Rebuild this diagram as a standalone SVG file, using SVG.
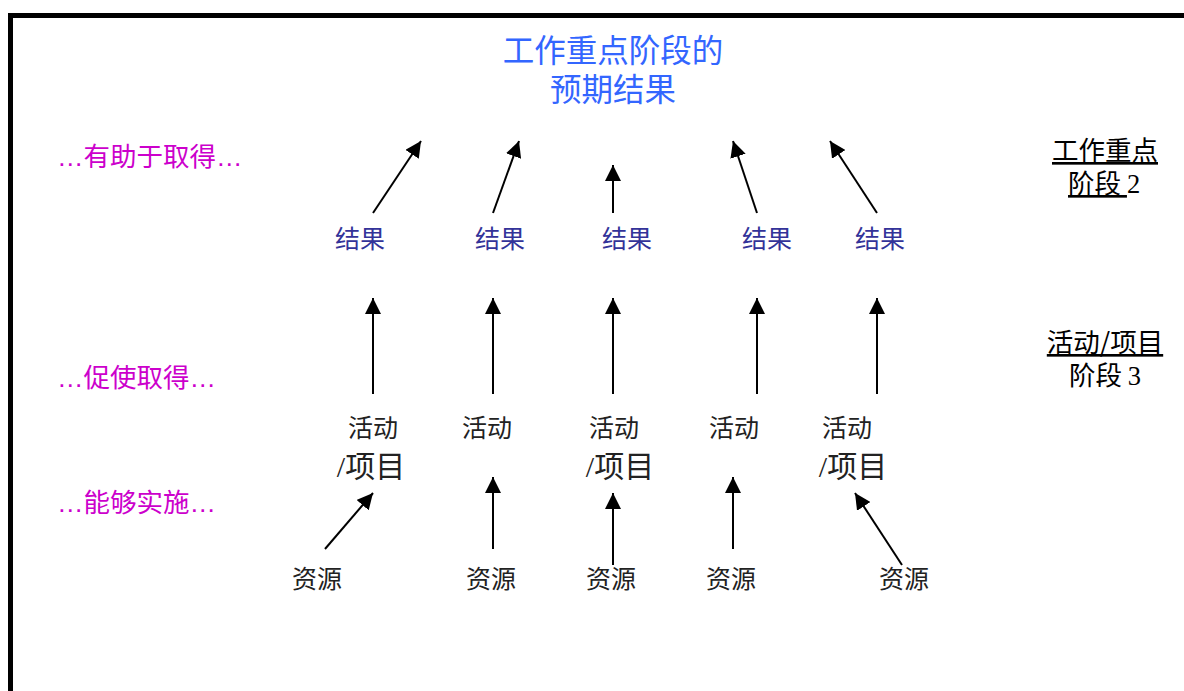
<svg xmlns="http://www.w3.org/2000/svg" width="1184" height="691" viewBox="0 0 1184 691">
<style>
.cjk{font-family:"Noto Sans CJK SC","Noto Sans",sans-serif}
.ser{font-family:"Liberation Serif","Noto Sans CJK SC",serif}
.dots{font-family:"Liberation Sans",sans-serif}
.title{fill:#3366FF;font-size:31.5px}
.mag{fill:#CC00CC;font-size:26.5px}
.res{fill:#333399;font-size:25px}
.act{fill:#222222;font-size:25px}
.proj{fill:#222222;font-size:30px}
.side{fill:#000000;font-size:26.5px}
.arr{stroke:#000;stroke-width:2;fill:none;marker-end:url(#ah)}
</style>
<defs>
<marker id="ah" markerWidth="8" markerHeight="8" refX="8" refY="4" orient="auto" markerUnits="strokeWidth">
<path d="M0,0 L8,4 L0,8 Z" fill="#000"/>
</marker>
</defs>
<rect x="0" y="0" width="1184" height="691" fill="#fff"/>
<rect x="10.5" y="15.5" width="1200" height="700" fill="none" stroke="#000" stroke-width="5"/>

<g id="title"><text class="cjk title" text-anchor="middle"><tspan x="613" y="62">工作重点阶段的</tspan><tspan x="613" y="101">预期结果</tspan></text></g>

<g id="lbl-help"><text class="cjk mag" x="57" y="166"><tspan class="dots">…</tspan>有助于取得<tspan class="dots">…</tspan></text></g>
<g id="lbl-promote"><text class="cjk mag" x="57" y="387"><tspan class="dots">…</tspan>促使取得<tspan class="dots">…</tspan></text></g>
<g id="lbl-enable"><text class="cjk mag" x="57" y="512"><tspan class="dots">…</tspan>能够实施<tspan class="dots">…</tspan></text></g>

<g id="phase2"><text class="cjk side" x="1105" y="160" text-anchor="middle" text-decoration="underline">工作重点</text>
<text class="cjk side" x="1068" y="193"><tspan text-decoration="underline">阶段 </tspan><tspan class="ser">2</tspan></text></g>
<g id="phase3"><text class="cjk side" x="1105" y="352" text-anchor="middle" text-decoration="underline">活动/项目</text>
<text class="cjk side" x="1105" y="385" text-anchor="middle">阶段 <tspan class="ser">3</tspan></text></g>

<g id="result1"><text class="cjk res" x="360" y="248" text-anchor="middle">结果</text></g>
<g id="result2"><text class="cjk res" x="500" y="248" text-anchor="middle">结果</text></g>
<g id="result3"><text class="cjk res" x="627" y="248" text-anchor="middle">结果</text></g>
<g id="result4"><text class="cjk res" x="767" y="248" text-anchor="middle">结果</text></g>
<g id="result5"><text class="cjk res" x="880" y="248" text-anchor="middle">结果</text></g>

<g id="activity1"><text class="cjk act" x="373" y="437" text-anchor="middle">活动</text><text class="ser proj" x="371" y="477" text-anchor="middle">/项目</text></g>
<g id="activity2"><text class="cjk act" x="487" y="437" text-anchor="middle">活动</text></g>
<g id="activity3"><text class="cjk act" x="614" y="437" text-anchor="middle">活动</text><text class="ser proj" x="620" y="477" text-anchor="middle">/项目</text></g>
<g id="activity4"><text class="cjk act" x="734" y="437" text-anchor="middle">活动</text></g>
<g id="activity5"><text class="cjk act" x="847" y="437" text-anchor="middle">活动</text><text class="ser proj" x="853" y="477" text-anchor="middle">/项目</text></g>

<g id="resource1"><text class="cjk act" x="317" y="588" text-anchor="middle">资源</text></g>
<g id="resource2"><text class="cjk act" x="491" y="588" text-anchor="middle">资源</text></g>
<g id="resource3"><text class="cjk act" x="611" y="588" text-anchor="middle">资源</text></g>
<g id="resource4"><text class="cjk act" x="731" y="588" text-anchor="middle">资源</text></g>
<g id="resource5"><text class="cjk act" x="904" y="588" text-anchor="middle">资源</text></g>

<g id="connectors">
<line class="arr" x1="373" y1="213" x2="421" y2="141"/>
<line class="arr" x1="493" y1="213" x2="519" y2="141"/>
<line class="arr" x1="613" y1="213" x2="613" y2="165"/>
<line class="arr" x1="757" y1="213" x2="733" y2="141"/>
<line class="arr" x1="877" y1="213" x2="830" y2="141"/>

<line class="arr" x1="373" y1="394" x2="373" y2="298"/>
<line class="arr" x1="493" y1="394" x2="493" y2="298"/>
<line class="arr" x1="613" y1="394" x2="613" y2="298"/>
<line class="arr" x1="757" y1="394" x2="757" y2="298"/>
<line class="arr" x1="877" y1="394" x2="877" y2="298"/>

<line class="arr" x1="325" y1="549" x2="373" y2="493"/>
<line class="arr" x1="493" y1="549" x2="493" y2="477"/>
<line class="arr" x1="613" y1="565" x2="613" y2="493"/>
<line class="arr" x1="733" y1="549" x2="733" y2="477"/>
<line class="arr" x1="902" y1="565" x2="855" y2="493"/>
</g>
</svg>
